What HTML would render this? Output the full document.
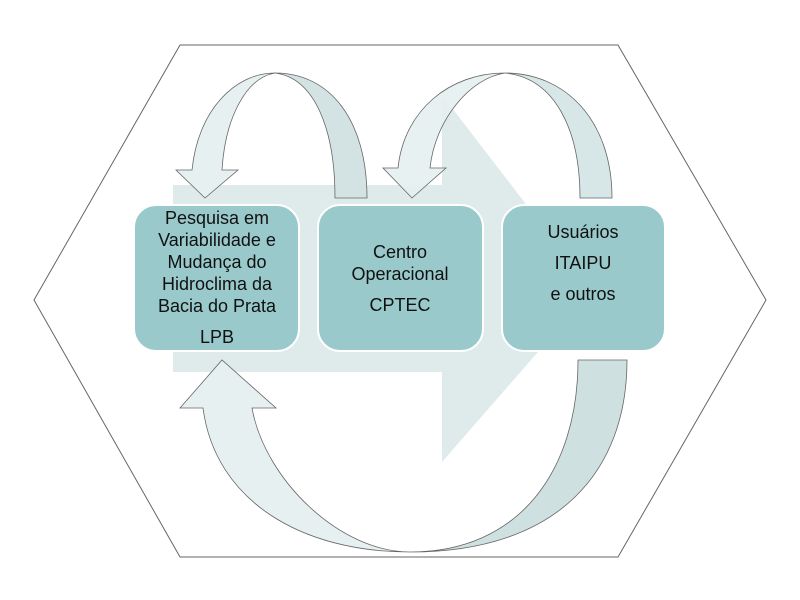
<!DOCTYPE html>
<html><head><meta charset="utf-8"><style>
body{margin:0;background:#fff;}
svg{display:block}
text{font-family:"Liberation Sans",sans-serif;font-size:18px;fill:#111;text-anchor:middle}
</style></head><body>
<svg width="800" height="600" viewBox="0 0 800 600">
<polygon points="180,45 618,45 766,300 618,557 180,557 34,300" fill="#fff" stroke="#666" stroke-width="1"/>
<polygon points="173,185 442,185 442,95 592,290 442,462 442,372 173,372" fill="#dfeaea"/>
<!-- top arc 1 : right lobe (back, darker) -->
<path d="M275,73 C330,73 367,120 367,198 L335,198 C335,130 315,78 275,73 Z" fill="#d3e3e3" stroke="#666" stroke-width="0.8"/>
<!-- left lobe -->
<path d="M192,170 C198,110 235,73 275,73 C245,78 225,120 222,170 L238,170 L205,198 L176,170 Z" fill="#e6f0f0" stroke="#666" stroke-width="0.8"/>
<!-- top arc 2 -->
<path d="M505,73 C565,73 612,120 612,198 L580,198 C580,130 555,78 505,73 Z" fill="#d3e3e3" fill-opacity="0.9" stroke="#666" stroke-width="0.8"/>
<path d="M398,168 C404,110 450,73 505,73 C470,78 435,120 430,168 L446,168 L412,198 L383,168 Z" fill="#e6f0f0" fill-opacity="0.9" stroke="#666" stroke-width="0.8"/>
<!-- bottom arc -->
<path d="M627,360 C627,470 560,552 410,552 C520,552 578,470 578,360 Z" fill="#cfe0e0" stroke="#666" stroke-width="0.8"/>
<path d="M410,552 C300,552 215,500 203,408 L180,408 L222,360 L276,408 L252,408 C265,480 340,552 410,552 Z" fill="#e6f0f0" stroke="#666" stroke-width="0.8"/>
<rect x="134" y="205" width="165" height="146" rx="22" fill="#99c9cb" stroke="#fff" stroke-width="2"/>
<rect x="318" y="205" width="165" height="146" rx="22" fill="#99c9cb" stroke="#fff" stroke-width="2"/>
<rect x="502" y="205" width="163" height="146" rx="22" fill="#99c9cb" stroke="#fff" stroke-width="2"/>
<text x="217" y="224">Pesquisa em</text>
<text x="217" y="246">Variabilidade e</text>
<text x="217" y="268">Mudança do</text>
<text x="217" y="290">Hidroclima da</text>
<text x="217" y="312">Bacia do Prata</text>
<text x="217" y="343">LPB</text>
<text x="400" y="258">Centro</text>
<text x="400" y="280">Operacional</text>
<text x="400" y="311">CPTEC</text>
<text x="583" y="238">Usuários</text>
<text x="583" y="269">ITAIPU</text>
<text x="583" y="300">e outros</text>
</svg>
</body></html>
